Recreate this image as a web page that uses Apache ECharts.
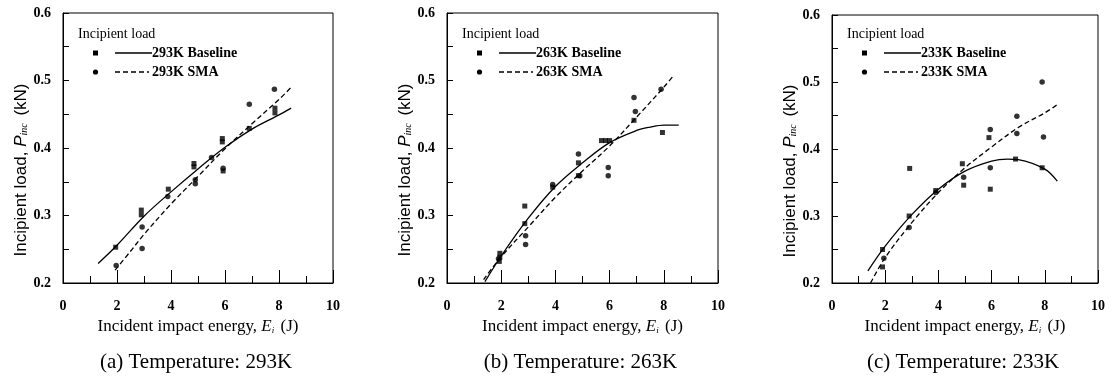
<!DOCTYPE html>
<html>
<head>
<meta charset="utf-8">
<script src="https://cdn.jsdelivr.net/npm/echarts@6/dist/echarts.min.js"></script>
<style>
html, body { margin: 0; background: #fff; }
#chart { width: 1114px; height: 383px; }
</style>
</head>
<body>
<div id="chart"></div>
<script>
// (a) 293K
var baseE293 = [1.95, 2.9, 2.9, 3.9, 4.85, 4.85, 5.9, 5.9, 5.93, 6.9, 7.85, 7.85];
var baseP293 = [0.253, 0.308, 0.301, 0.339, 0.377, 0.372, 0.414, 0.409, 0.366, 0.429, 0.459, 0.452];
var smaE293 = [1.97, 2.93, 2.93, 3.88, 4.9, 4.9, 5.5, 5.93, 6.9, 7.83];
var smaP293 = [0.226, 0.283, 0.251, 0.328, 0.353, 0.347, 0.386, 0.370, 0.465, 0.487];
var baseFitE293 = [1.3, 2, 3, 4, 5, 6, 7, 8, 8.45];
var baseFitP293 = [0.229, 0.256, 0.299, 0.335, 0.369, 0.401, 0.428, 0.449, 0.459];
var smaFitE293 = [1.93, 2.5, 3, 4, 5, 6, 7, 8, 8.5];
var smaFitP293 = [0.219, 0.247, 0.272, 0.317, 0.358, 0.399, 0.436, 0.472, 0.492];

// (b) 263K
var baseE263 = [1.95, 1.95, 1.93, 2.87, 2.87, 3.9, 4.85, 4.85, 5.7, 5.85, 6.0, 6.9, 7.95];
var baseP263 = [0.244, 0.238, 0.232, 0.314, 0.288, 0.342, 0.378, 0.359, 0.411, 0.411, 0.411, 0.441, 0.423];
var smaE263 = [1.9, 2.9, 2.9, 3.9, 4.85, 4.9, 5.95, 5.95, 6.9, 6.95, 7.9];
var smaP263 = [0.236, 0.270, 0.257, 0.346, 0.391, 0.359, 0.371, 0.359, 0.475, 0.454, 0.487];
var baseFitE263 = [1.4, 2, 3, 4, 5, 6, 7, 7.5, 8, 8.55];
var baseFitP263 = [0.202, 0.240, 0.296, 0.343, 0.378, 0.408, 0.426, 0.431, 0.434, 0.434];
var smaFitE263 = [1.35, 2, 3, 4, 5, 6, 7, 8, 8.37];
var smaFitP263 = [0.205, 0.239, 0.283, 0.327, 0.366, 0.403, 0.446, 0.490, 0.508];

// (c) 233K
var baseE233 = [1.9, 1.9, 2.92, 2.9, 3.9, 4.9, 4.95, 5.9, 5.95, 6.9, 7.9];
var baseP233 = [0.250, 0.224, 0.371, 0.300, 0.338, 0.378, 0.346, 0.417, 0.340, 0.385, 0.372];
var smaE233 = [1.95, 2.9, 3.9, 4.95, 5.95, 5.95, 6.95, 6.95, 7.9, 7.95];
var smaP233 = [0.237, 0.283, 0.335, 0.358, 0.429, 0.372, 0.449, 0.423, 0.500, 0.418];
var baseFitE233 = [1.35, 2, 3, 4, 5, 6, 6.6, 7, 8, 8.47];
var baseFitP233 = [0.218, 0.255, 0.302, 0.340, 0.367, 0.382, 0.385, 0.384, 0.370, 0.352];
var smaFitE233 = [1.45, 2, 3, 4, 5, 6, 7, 8, 8.5];
var smaFitP233 = [0.200, 0.238, 0.290, 0.335, 0.372, 0.403, 0.432, 0.454, 0.467];

var temps = ['293K', '263K', '233K'];
var captions = ['(a) Temperature: 293K', '(b) Temperature: 263K', '(c) Temperature: 233K'];
var xTicks = [0, 2, 4, 6, 8, 10];
var yTicks = [0.2, 0.3, 0.4, 0.5, 0.6];

var panels = [
    {base: [baseE293, baseP293], sma: [smaE293, smaP293], baseFit: [baseFitE293, baseFitP293], smaFit: [smaFitE293, smaFitP293]},
    {base: [baseE263, baseP263], sma: [smaE263, smaP263], baseFit: [baseFitE263, baseFitP263], smaFit: [smaFitE263, smaFitP263]},
    {base: [baseE233, baseP233], sma: [smaE233, smaP233], baseFit: [baseFitE233, baseFitP233], smaFit: [smaFitE233, smaFitP233]}
];

// plot boxes
var boxes = [
    {left: 63, top: 13, width: 270, height: 270},
    {left: 447, top: 13, width: 271, height: 270},
    {left: 832, top: 15, width: 266, height: 268}
];

var serif = "'Liberation Serif', 'Times New Roman', serif";
var sans = "'Liberation Sans', Arial, sans-serif";

function zip(xs, ys) {
    return xs.map(function (x, i) { return [x, ys[i]]; });
}

var grids = [], xAxes = [], yAxes = [], series = [], graphics = [];

panels.forEach(function (p, i) {
    var b = boxes[i];
    grids.push({
        left: b.left, top: b.top, width: b.width, height: b.height,
        show: true, borderColor: '#000', borderWidth: 1,
        containLabel: false, outerBoundsMode: 'none'
    });
    xAxes.push({
        gridIndex: i, type: 'value', min: xTicks[0], max: xTicks[xTicks.length - 1], interval: 2,
        axisLine: {onZero: false, lineStyle: {color: '#000', width: 1}},
        axisTick: {inside: true, length: 13, lineStyle: {color: '#000'}},
        minorTick: {show: true, splitNumber: 2, length: 7, lineStyle: {color: '#000'}},
        splitLine: {show: false},
        axisLabel: {color: '#000', fontFamily: serif, fontWeight: 'bold', fontSize: 14, margin: 16},
        name: '{t|Incident impact energy, }{i|E}{s|i}{t| (J)}',
        nameLocation: 'middle', nameGap: 30,
        nameTextStyle: {
            rich: {
                t: {fontFamily: serif, fontSize: 17, color: '#000'},
                i: {fontFamily: serif, fontSize: 17, fontStyle: 'italic', color: '#000'},
                s: {fontFamily: serif, fontSize: 9, fontStyle: 'italic', color: '#000', verticalAlign: 'bottom', padding: [6, 2, 0, 0]}
            }
        }
    });
    yAxes.push({
        gridIndex: i, type: 'value', min: yTicks[0], max: yTicks[yTicks.length - 1], interval: 0.1,
        axisLine: {onZero: false, lineStyle: {color: '#000', width: 1}},
        axisTick: {inside: true, length: 6, lineStyle: {color: '#000'}},
        minorTick: {show: true, splitNumber: 2, length: 6, lineStyle: {color: '#000'}},
        splitLine: {show: false},
        axisLabel: {color: '#000', fontFamily: serif, fontWeight: 'bold', fontSize: 14, margin: 12,
            formatter: function (v) { return v.toFixed(1); }},
        name: '{t|Incipient load, }{i|P}{s|inc}{t| (kN)}',
        nameLocation: 'middle', nameGap: 32, nameRotate: 90,
        nameTextStyle: {
            padding: [0, 44, 0, 0],
            rich: {
                t: {fontFamily: sans, fontSize: 17, color: '#000'},
                i: {fontFamily: sans, fontSize: 17, fontStyle: 'italic', color: '#000'},
                s: {fontFamily: serif, fontSize: 10, fontStyle: 'italic', color: '#000', verticalAlign: 'bottom', padding: [6, 3, 0, 0]}
            }
        }
    });

    series.push({
        name: temps[i] + ' Baseline', type: 'scatter', xAxisIndex: i, yAxisIndex: i,
        symbol: 'rect', symbolSize: 5, itemStyle: {color: '#000'},
        data: zip(p.base[0], p.base[1])
    });
    series.push({
        name: temps[i] + ' SMA', type: 'scatter', xAxisIndex: i, yAxisIndex: i,
        symbol: 'circle', symbolSize: 5.5, itemStyle: {color: '#000'},
        data: zip(p.sma[0], p.sma[1])
    });
    series.push({
        type: 'line', xAxisIndex: i, yAxisIndex: i, smooth: 0.35,
        showSymbol: false, lineStyle: {color: '#000', width: 1.3},
        data: zip(p.baseFit[0], p.baseFit[1])
    });
    series.push({
        type: 'line', xAxisIndex: i, yAxisIndex: i, smooth: 0.35,
        showSymbol: false, lineStyle: {color: '#000', width: 1.3, type: [5, 3]},
        data: zip(p.smaFit[0], p.smaFit[1])
    });

    // legend box drawn by hand: marker, line sample, label
    var L = b.left;
    graphics.push(
        {type: 'text', style: {text: 'Incipient load', x: L + 15, y: 34, font: '14px ' + serif, fill: '#000', textVerticalAlign: 'middle'}},
        {type: 'rect', shape: {x: L + 30, y: 50.5, width: 5, height: 5}, style: {fill: '#000'}},
        {type: 'line', shape: {x1: L + 52, y1: 53, x2: L + 89, y2: 53}, style: {stroke: '#000', lineWidth: 1.3}},
        {type: 'text', style: {text: temps[i] + ' Baseline', x: L + 89, y: 53, font: 'bold 14px ' + serif, fill: '#000', textVerticalAlign: 'middle'}},
        {type: 'circle', shape: {cx: L + 32.5, cy: 72, r: 2.6}, style: {fill: '#000'}},
        {type: 'line', shape: {x1: L + 52, y1: 72, x2: L + 86, y2: 72}, style: {stroke: '#000', lineWidth: 1.3, lineDash: [5, 3]}},
        {type: 'text', style: {text: temps[i] + ' SMA', x: L + 89, y: 72, font: 'bold 14px ' + serif, fill: '#000', textVerticalAlign: 'middle'}},
        {type: 'text', style: {text: captions[i], x: b.left + b.width / 2 - 2, y: 362, font: '21px ' + serif, fill: '#000', textAlign: 'center', textVerticalAlign: 'middle'}}
    );
});

var chart = echarts.init(document.getElementById('chart'), null, {renderer: 'canvas'});
chart.setOption({
    animation: false,
    backgroundColor: '#fff',
    grid: grids,
    xAxis: xAxes,
    yAxis: yAxes,
    series: series,
    graphic: graphics
});
</script>
</body>
</html>
